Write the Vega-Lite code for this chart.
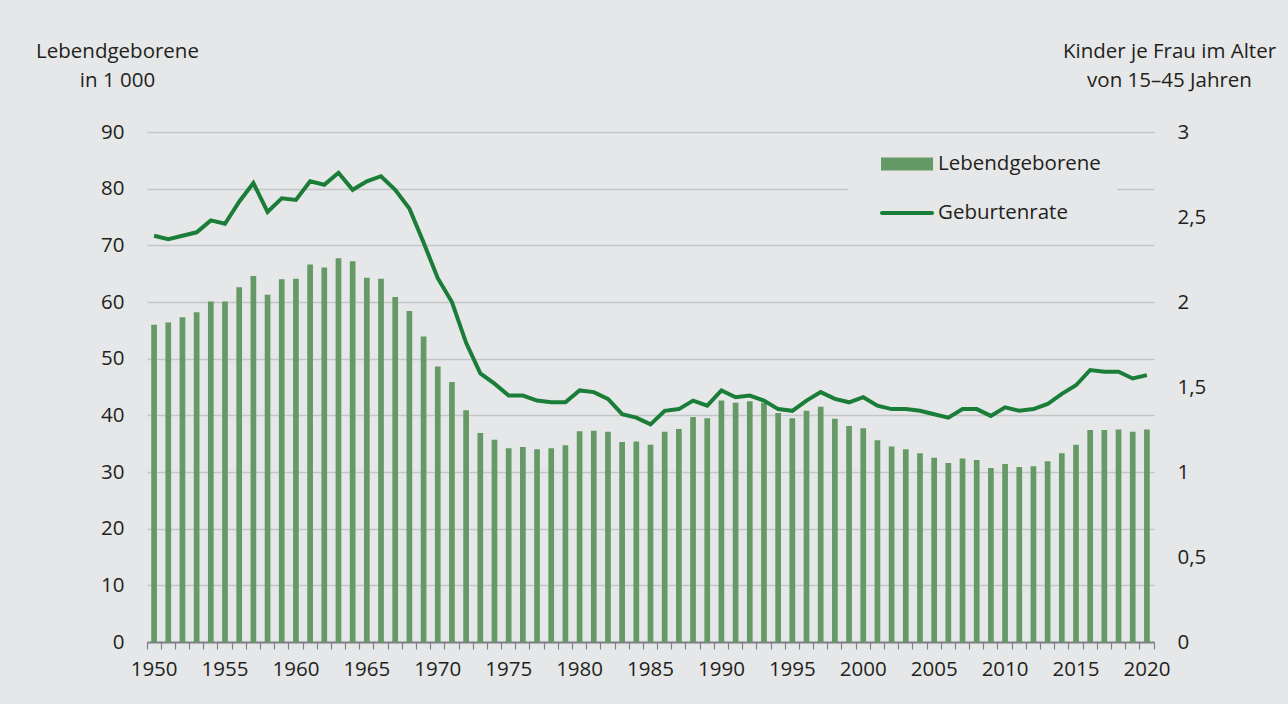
{
  "$schema": "https://vega.github.io/schema/vega-lite/v6.json",
  "width": 1007,
  "height": 510,
  "autosize": {"type": "none"},
  "padding": {"left": 147, "top": 132, "right": 134, "bottom": 62},
  "background": "#e6e7e8",
  "config": {
    "font": "Open Sans",
    "view": {"stroke": null},
    "axis": {"labelFont": "Open Sans", "titleFont": "Open Sans", "labelColor": "#231f20", "titleColor": "#231f20", "labelFontSize": 20.5, "titleFontSize": 20.5, "titleFontWeight": "normal"},
    "legend": {"labelFont": "Open Sans", "labelFontSize": 20.5, "labelColor": "#231f20"}
  },
  "data": {"values": [
    {"year": 1950, "births": 56.0, "rate": 2.39},
    {"year": 1951, "births": 56.4, "rate": 2.37},
    {"year": 1952, "births": 57.3, "rate": 2.39},
    {"year": 1953, "births": 58.2, "rate": 2.41},
    {"year": 1954, "births": 60.1, "rate": 2.48},
    {"year": 1955, "births": 60.1, "rate": 2.46},
    {"year": 1956, "births": 62.6, "rate": 2.59},
    {"year": 1957, "births": 64.6, "rate": 2.70},
    {"year": 1958, "births": 61.3, "rate": 2.53},
    {"year": 1959, "births": 64.0, "rate": 2.61},
    {"year": 1960, "births": 64.1, "rate": 2.60},
    {"year": 1961, "births": 66.6, "rate": 2.71},
    {"year": 1962, "births": 66.1, "rate": 2.69},
    {"year": 1963, "births": 67.7, "rate": 2.76},
    {"year": 1964, "births": 67.2, "rate": 2.66},
    {"year": 1965, "births": 64.3, "rate": 2.71},
    {"year": 1966, "births": 64.1, "rate": 2.74},
    {"year": 1967, "births": 60.9, "rate": 2.66},
    {"year": 1968, "births": 58.4, "rate": 2.55},
    {"year": 1969, "births": 53.9, "rate": 2.35},
    {"year": 1970, "births": 48.6, "rate": 2.14},
    {"year": 1971, "births": 45.9, "rate": 2.00},
    {"year": 1972, "births": 40.9, "rate": 1.76},
    {"year": 1973, "births": 36.9, "rate": 1.58},
    {"year": 1974, "births": 35.7, "rate": 1.52},
    {"year": 1975, "births": 34.2, "rate": 1.45},
    {"year": 1976, "births": 34.4, "rate": 1.45},
    {"year": 1977, "births": 34.0, "rate": 1.42},
    {"year": 1978, "births": 34.2, "rate": 1.41},
    {"year": 1979, "births": 34.7, "rate": 1.41},
    {"year": 1980, "births": 37.2, "rate": 1.48},
    {"year": 1981, "births": 37.3, "rate": 1.47},
    {"year": 1982, "births": 37.1, "rate": 1.43},
    {"year": 1983, "births": 35.3, "rate": 1.34},
    {"year": 1984, "births": 35.4, "rate": 1.32},
    {"year": 1985, "births": 34.8, "rate": 1.28},
    {"year": 1986, "births": 37.1, "rate": 1.36},
    {"year": 1987, "births": 37.6, "rate": 1.37},
    {"year": 1988, "births": 39.7, "rate": 1.42},
    {"year": 1989, "births": 39.5, "rate": 1.39},
    {"year": 1990, "births": 42.6, "rate": 1.48},
    {"year": 1991, "births": 42.2, "rate": 1.44},
    {"year": 1992, "births": 42.5, "rate": 1.45},
    {"year": 1993, "births": 42.2, "rate": 1.42},
    {"year": 1994, "births": 40.4, "rate": 1.37},
    {"year": 1995, "births": 39.5, "rate": 1.36},
    {"year": 1996, "births": 40.8, "rate": 1.42},
    {"year": 1997, "births": 41.5, "rate": 1.47},
    {"year": 1998, "births": 39.4, "rate": 1.43},
    {"year": 1999, "births": 38.1, "rate": 1.41},
    {"year": 2000, "births": 37.7, "rate": 1.44},
    {"year": 2001, "births": 35.6, "rate": 1.39},
    {"year": 2002, "births": 34.5, "rate": 1.37},
    {"year": 2003, "births": 34.0, "rate": 1.37},
    {"year": 2004, "births": 33.3, "rate": 1.36},
    {"year": 2005, "births": 32.5, "rate": 1.34},
    {"year": 2006, "births": 31.6, "rate": 1.32},
    {"year": 2007, "births": 32.4, "rate": 1.37},
    {"year": 2008, "births": 32.1, "rate": 1.37},
    {"year": 2009, "births": 30.7, "rate": 1.33},
    {"year": 2010, "births": 31.4, "rate": 1.38},
    {"year": 2011, "births": 30.9, "rate": 1.36},
    {"year": 2012, "births": 31.0, "rate": 1.37},
    {"year": 2013, "births": 31.9, "rate": 1.40},
    {"year": 2014, "births": 33.3, "rate": 1.46},
    {"year": 2015, "births": 34.8, "rate": 1.51},
    {"year": 2016, "births": 37.4, "rate": 1.60},
    {"year": 2017, "births": 37.4, "rate": 1.59},
    {"year": 2018, "births": 37.5, "rate": 1.59},
    {"year": 2019, "births": 37.1, "rate": 1.55},
    {"year": 2020, "births": 37.5, "rate": 1.57}
  ]},
  "layer": [
    {
      "mark": {"type": "bar", "width": 5.7},
      "encoding": {
        "x": {"field": "year", "type": "ordinal", "scale": {"type": "band", "paddingInner": 0, "paddingOuter": 0},
          "axis": {"orient": "bottom", "title": null, "ticks": false, "tickSize": 0, "domain": true, "domainColor": "#808184", "domainWidth": 1.8, "grid": false, "labelAngle": 0, "labelPadding": 17, "labelOverlap": false, "labelFlush": false, "labelExpr": "datum.value % 5 === 0 ? datum.label : ''"}},
        "y": {"field": "births", "type": "quantitative", "scale": {"domain": [0, 90], "nice": false, "zero": true},
          "axis": {"orient": "left", "values": [0, 10, 20, 30, 40, 50, 60, 70, 80, 90], "grid": true, "gridColor": "#c4c5c7", "gridWidth": 1.5, "ticks": false, "domain": false, "labelPadding": 23,
            "title": ["Lebendgeborene", "in 1 000"], "titleAngle": 0, "titleAlign": "center", "titleBaseline": "alphabetic", "titleX": -30, "titleY": -74.7, "titleLineHeight": 29}},
        "fill": {"datum": "Lebendgeborene", "type": "nominal", "scale": {"range": ["#659966"]},
          "legend": {"orient": "none", "legendX": 701, "legendY": 3, "title": null, "symbolType": "M0.31,-0.5H4.31V0.5H0.31Z", "symbolSize": 676, "symbolStrokeWidth": 0, "labelOffset": 48, "padding": 16, "fillColor": "#e6e7e8", "labelLimit": 400, "labelExpr": "datum.label + '\u00a0\u00a0'"}}
      }
    },
    {
      "mark": {"type": "line", "strokeWidth": 4, "strokeJoin": "miter"},
      "encoding": {
        "x": {"field": "year", "type": "ordinal",
          "axis": {"orient": "bottom", "title": null, "labels": false, "domain": false, "grid": false, "ticks": true, "tickSize": 7, "tickColor": "#808184", "tickWidth": 1.2, "bandPosition": 0}},
        "y": {"field": "rate", "type": "quantitative", "scale": {"domain": [0, 3], "nice": false, "zero": true},
          "axis": {"orient": "right", "values": [0, 0.5, 1, 1.5, 2, 2.5, 3], "grid": false, "ticks": false, "domain": false, "labelPadding": 23, "labelAlign": "left",
            "labelExpr": "replace(format(datum.value, '.1~f'), '.', ',')",
            "title": ["Kinder je Frau im Alter", "von 15–45 Jahren"], "titleAngle": 0, "titleAlign": "center", "titleBaseline": "alphabetic", "titleX": 15, "titleY": -74.7, "titleLineHeight": 29}},
        "stroke": {"datum": "Geburtenrate", "type": "nominal", "scale": {"range": ["#1a7d38"]},
          "legend": {"orient": "none", "legendX": 717, "legendY": 66, "title": null, "symbolType": "M0.23,0H4.08", "symbolSize": 676, "symbolStrokeWidth": 4, "labelOffset": 44, "padding": 0, "labelLimit": 400,
            "encode": {"symbols": {"update": {"strokeCap": {"value": "round"}}}}}}
      }
    },
    {
      "mark": {"type": "rule", "opacity": 0},
      "encoding": {
        "x": {"field": "year", "type": "ordinal",
          "axis": {"orient": "bottom", "title": null, "labels": false, "domain": false, "grid": false, "ticks": true, "tickSize": 7, "tickColor": "#808184", "tickWidth": 1.2, "bandPosition": 1, "values": [2020]}}
      }
    }
  ],
  "resolve": {"scale": {"y": "independent"}, "axis": {"x": "independent", "y": "independent"}}
}
